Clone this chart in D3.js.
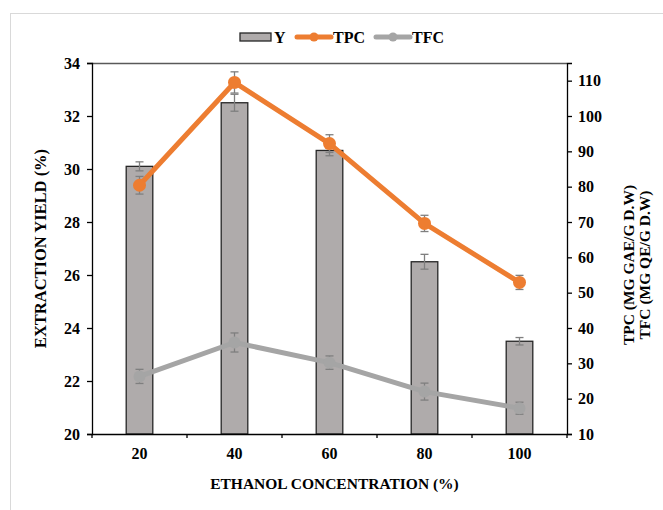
<!DOCTYPE html>
<html>
<head>
<meta charset="utf-8">
<script src="https://cdn.jsdelivr.net/npm/d3@7"></script>
<style>
  body { margin: 0; background: #fff; }
  text { font-family: "Liberation Serif", "Times New Roman", serif; font-weight: bold; fill: #000; }
</style>
</head>
<body>
<div id="chart"></div>
<script>
// data
let categories = ["20", "40", "60", "80", "100"];
let yield_vals = [30.1, 32.5, 30.7, 26.5, 23.5];
let yield_err  = [0.17, 0.32, 0.2, 0.28, 0.14];
let tpc_vals = [80.4, 109.5, 92.2, 69.6, 52.9];
let tpc_err  = [2.5, 3.0, 2.5, 2.3, 2.0];
let tfc_vals = [26.3, 35.9, 30.2, 22.0, 17.3];
let tfc_err  = [2.0, 2.7, 1.9, 2.4, 1.7];
let left_ticks = [20, 22, 24, 26, 28, 30, 32, 34];
let right_ticks = [10, 20, 30, 40, 50, 60, 70, 80, 90, 100, 110];

let width = 663, height = 510;
let margin = {top: 63, right: 96, bottom: 76, left: 92};
let plot_w = width - margin.left - margin.right;
let plot_h = height - margin.top - margin.bottom;

let orange = "#ED7D31", gray_line = "#A5A5A5", bar_fill = "#AFABAB", err_col = "#7F7F7F";

let svg = d3.select("#chart")
            .append("svg")
            .attr("width", width)
            .attr("height", height);

// outer frame
svg.append("rect")
   .attr("x", 10.5).attr("y", 13.5)
   .attr("width", 700).attr("height", 600)
   .style("fill", "none")
   .style("stroke", "#d9d9d9")
   .style("stroke-width", 1);

let g = svg.append("g")
           .attr("transform", "translate(" + margin.left + "," + margin.top + ")");

let x = d3.scaleBand().domain(categories).range([0, plot_w]);
let y = d3.scaleLinear().domain([20, 34]).range([plot_h, 0]);
let y2 = d3.scaleLinear().domain([10, 115]).range([plot_h, 0]);
let bw = x.bandwidth() * 0.28;
let cx = function(c) { return x(c) + x.bandwidth() / 2; };

// top border
g.append("line")
 .attr("x1", 0).attr("x2", plot_w).attr("y1", 0.5).attr("y2", 0.5)
 .style("stroke", "#595959").style("stroke-width", 1.3);

let rows = categories.map(function(c, i) {
  return {c: c, y: yield_vals[i], ye: yield_err[i], tpc: tpc_vals[i], tpce: tpc_err[i], tfc: tfc_vals[i], tfce: tfc_err[i]};
});

// bars
g.selectAll(".bar")
 .data(rows)
 .enter()
 .append("rect")
 .attr("class", "bar")
 .attr("x", function(d) { return cx(d.c) - bw / 2; })
 .attr("y", function(d) { return y(d.y); })
 .attr("width", bw)
 .attr("height", function(d) { return plot_h - y(d.y); })
 .style("fill", bar_fill)
 .style("stroke", "#262626")
 .style("stroke-width", 1.3);

function errorBars(cls, scale, val, err) {
  let eg = g.selectAll("." + cls)
            .data(rows)
            .enter()
            .append("g")
            .attr("class", cls)
            .style("stroke", err_col)
            .style("stroke-width", 1.3);
  eg.append("line")
    .attr("x1", function(d) { return cx(d.c); })
    .attr("x2", function(d) { return cx(d.c); })
    .attr("y1", function(d) { return scale(d[val] - d[err]); })
    .attr("y2", function(d) { return scale(d[val] + d[err]); });
  [1, -1].forEach(function(s) {
    eg.append("line")
      .attr("x1", function(d) { return cx(d.c) - 4; })
      .attr("x2", function(d) { return cx(d.c) + 4; })
      .attr("y1", function(d) { return scale(d[val] + s * d[err]); })
      .attr("y2", function(d) { return scale(d[val] + s * d[err]); });
  });
}

errorBars("err-y", y, "y", "ye");
errorBars("err-tpc", y2, "tpc", "tpce");
errorBars("err-tfc", y2, "tfc", "tfce");

function series(key, color, r) {
  let line = d3.line()
               .x(function(d) { return cx(d.c); })
               .y(function(d) { return y2(d[key]); });
  g.append("path")
   .datum(rows)
   .attr("d", line)
   .style("fill", "none")
   .style("stroke", color)
   .style("stroke-width", 5)
   .style("stroke-linejoin", "round");
  g.selectAll(".m-" + key)
   .data(rows)
   .enter()
   .append("circle")
   .attr("cx", function(d) { return cx(d.c); })
   .attr("cy", function(d) { return y2(d[key]); })
   .attr("r", r)
   .style("fill", color);
}

series("tfc", gray_line, 6);
series("tpc", orange, 6.5);

// axes
let ax_left = g.append("g")
  .call(d3.axisLeft(y).tickValues(left_ticks).tickSize(5).tickPadding(7));
let ax_right = g.append("g")
  .attr("transform", "translate(" + plot_w + ",0)")
  .call(d3.axisRight(y2).tickValues(right_ticks).tickSize(5).tickPadding(6));
let ax_bottom = g.append("g")
  .attr("transform", "translate(0," + plot_h + ")")
  .call(d3.axisBottom(x).tickSize(0).tickPadding(14));

// tick marks between categories on the x axis
g.selectAll(".xsep")
 .data(d3.range(categories.length + 1))
 .enter()
 .append("line")
 .attr("x1", function(i) { return i * x.step(); })
 .attr("x2", function(i) { return i * x.step(); })
 .attr("y1", plot_h).attr("y2", plot_h + 4)
 .style("stroke", "#000").style("stroke-width", 1.3);

[ax_left, ax_right, ax_bottom].forEach(function(a) {
  a.select(".domain").style("stroke", "#000").style("stroke-width", 1.3);
  a.selectAll(".tick line").style("stroke", "#000").style("stroke-width", 1.3);
  a.selectAll(".tick text")
   .style("font-family", '"Liberation Serif", serif')
   .style("font-weight", "bold")
   .style("font-size", "16px")
   .style("fill", "#000");
});
ax_bottom.select(".domain").attr("d", "M0,0.5H" + plot_w);

// axis titles
svg.append("text")
   .attr("transform", "translate(40," + (margin.top + plot_h / 2) + ") rotate(-90)")
   .attr("text-anchor", "middle")
   .attr("dy", "0.35em")
   .style("font-size", "16.5px")
   .text("EXTRACTION YIELD (%)");

svg.append("text")
   .attr("x", margin.left + plot_w / 2 + 5)
   .attr("y", 489)
   .attr("text-anchor", "middle")
   .style("font-size", "15.5px")
   .text("ETHANOL CONCENTRATION (%)");

let rt = svg.append("text")
   .attr("transform", "translate(634,265) rotate(-90)")
   .attr("text-anchor", "middle")
   .style("font-size", "15.5px");
rt.append("tspan").attr("x", 0).attr("dy", "0").text("TPC (MG GAE/G D.W)");
rt.append("tspan").attr("x", 0).attr("dy", "1.05em").text("TFC (MG QE/G D.W)");

// legend
let legend = svg.append("g").attr("transform", "translate(240,37)");
legend.append("rect")
      .attr("x", 0).attr("y", -4).attr("width", 31).attr("height", 8)
      .style("fill", bar_fill).style("stroke", "#262626").style("stroke-width", 1.3);
legend.append("text").attr("x", 34).attr("y", 5.5).style("font-size", "16px").text("Y");

[{x: 57, color: orange, label: "TPC"}, {x: 136, color: gray_line, label: "TFC"}].forEach(function(l) {
  legend.append("line")
        .attr("x1", l.x).attr("x2", l.x + 34).attr("y1", 0).attr("y2", 0)
        .style("stroke", l.color).style("stroke-width", 5).style("stroke-linecap", "round");
  legend.append("circle").attr("cx", l.x + 17).attr("cy", 0).attr("r", 4.5).style("fill", l.color);
  legend.append("text").attr("x", l.x + 36).attr("y", 5.5).style("font-size", "16px").text(l.label);
});
</script>
</body>
</html>
